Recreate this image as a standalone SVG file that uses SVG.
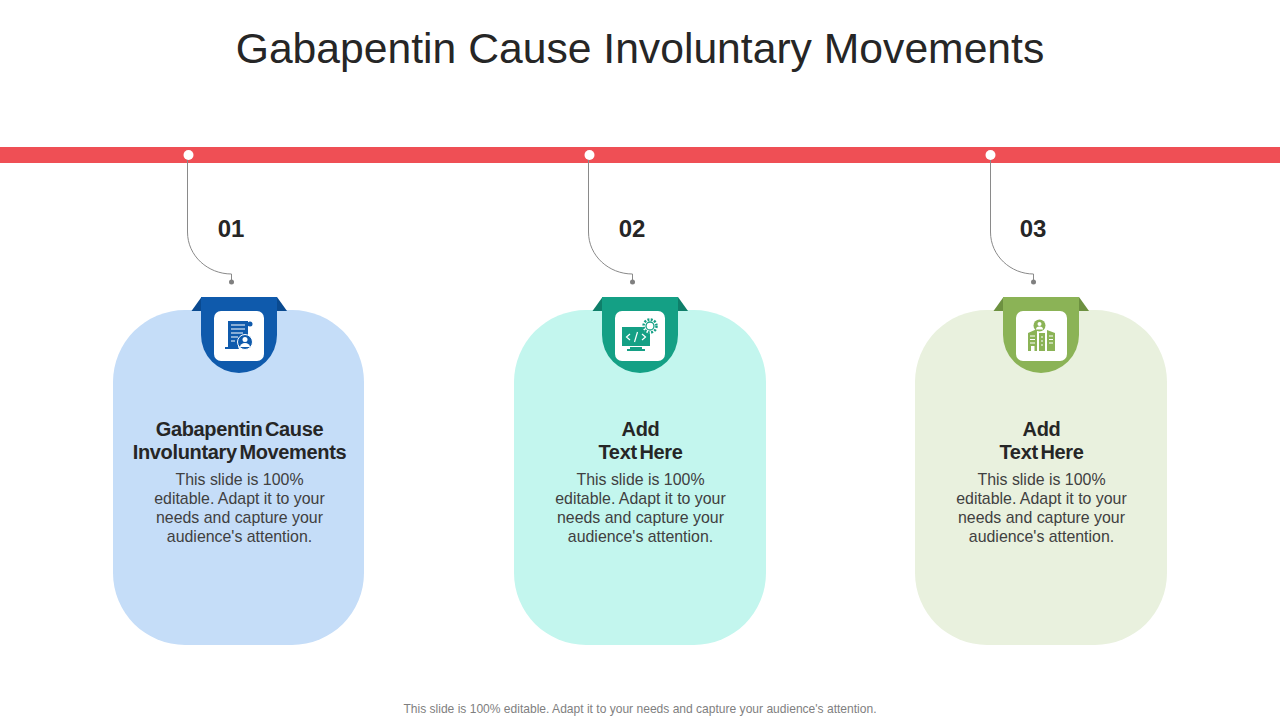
<svg xmlns="http://www.w3.org/2000/svg" width="1280" height="720" viewBox="0 0 1280 720">
<style>
text{font-family:"Liberation Sans",Arial,sans-serif;text-anchor:middle}
.t{font-size:42.67px;fill:#262626}
.n{font-size:24px;font-weight:bold;fill:#262626}
.h{font-size:20px;font-weight:bold;fill:#262626;letter-spacing:-.35px;word-spacing:-2.5px}
.b{font-size:15.9px;fill:#404040}
.f{font-size:12.05px;fill:#7f7f7f}
.c{fill:none;stroke:#8a8a8a;stroke-width:1}
.d{fill:#7f7f7f}
.w{fill:#fff}
</style>
<rect width="1280" height="720" fill="#fff"/>
<text class="t" x="640" y="63">Gabapentin Cause Involuntary Movements</text>
<rect id="bar" x="0" y="147" width="1280" height="16" fill="#ef4f55"/>
<g id="connectors">
<path class="c" d="M187.500 155V232C187.500 256 208 274 231.500 274V282"/>
<path class="c" d="M588.500 155V232C588.500 256 609 274 632.500 274V282"/>
<path class="c" d="M990.500 155V232C990.500 256 1011 274 1033.500 274V282"/>
<circle class="d" cx="231.500" cy="282" r="2.500"/><circle class="d" cx="632.500" cy="282" r="2.500"/><circle class="d" cx="1033.500" cy="282" r="2.500"/>
<circle class="w" cx="188.500" cy="155" r="5"/><circle class="w" cx="589.500" cy="155" r="5"/><circle class="w" cx="990.500" cy="155" r="5"/>
</g>
<g id="node1">
<rect x="113" y="310" width="251" height="335" rx="72" fill="#c5ddf8"/>
<path d="M191.500 311L201.500 297H277L287 311Z" fill="#0a4a90"/>
<path d="M201 297H277V335A38 38 0 0 1 201 335Z" fill="#0f5aac"/>
<rect x="214" y="311" width="50" height="50" rx="7" fill="#fff"/>
<path d="M228 321H248V336A9 9 0 0 0 239 349H225V347H228Z" fill="#0f5aac"/>
<path d="M231 325H245M231 329H245M231 333H243M231 337H238M231 341H235" stroke="#fff" stroke-width="1.200" fill="none"/>
<circle cx="250" cy="324" r="2.500" fill="#0f5aac"/>
<circle cx="245" cy="342" r="7.500" fill="#0f5aac" stroke="#fff"/>
<circle cx="245" cy="339.500" r="2.500" fill="#fff"/><path d="M240 347A5 4 0 0 1 250 347Z" fill="#fff"/>
<text class="n" x="231" y="237">01</text>
<text class="h" x="239.500" y="436">Gabapentin Cause</text>
<text class="h" x="239.500" y="459">Involuntary Movements</text>
<text class="b" x="239.500" y="485">This slide is 100%</text>
<text class="b" x="239.500" y="504">editable. Adapt it to your</text>
<text class="b" x="239.500" y="523">needs and capture your</text>
<text class="b" x="239.500" y="542">audience's attention.</text>
</g>
<g id="node2">
<rect x="514" y="310" width="252" height="335" rx="72" fill="#c3f6ee"/>
<path d="M592.500 311L602.500 297H678L688 311Z" fill="#0f7f6a"/>
<path d="M602 297H678V335A38 38 0 0 1 602 335Z" fill="#14a085"/>
<rect x="615" y="311" width="50" height="50" rx="7" fill="#fff"/>
<rect x="622" y="327" width="28" height="19" fill="#14a085"/>
<path d="M630 347H642V349H645V351H627V349H630Z" fill="#14a085"/>
<path d="M630 334L626.500 337L630 340M642 334L645.500 337L642 340M637.500 332L634.500 342" stroke="#fff" stroke-width="1.200" fill="none"/>
<circle cx="650" cy="326" r="7.500" fill="#fff"/>
<circle cx="650" cy="326" r="4" fill="#fff" stroke="#14a085" stroke-width="1.300"/>
<circle cx="650" cy="326" r="6.500" fill="none" stroke="#14a085" stroke-width="2.500" stroke-dasharray="2 1.400"/>
<text class="n" x="632" y="237">02</text>
<text class="h" x="640.500" y="436">Add</text>
<text class="h" x="640.500" y="459">Text Here</text>
<text class="b" x="640.500" y="485">This slide is 100%</text>
<text class="b" x="640.500" y="504">editable. Adapt it to your</text>
<text class="b" x="640.500" y="523">needs and capture your</text>
<text class="b" x="640.500" y="542">audience's attention.</text>
</g>
<g id="node3">
<rect x="915" y="310" width="252" height="335" rx="72" fill="#e9f1de"/>
<path d="M993.500 311L1003.500 297H1079L1089 311Z" fill="#6d9140"/>
<path d="M1003 297H1079V335A38 38 0 0 1 1003 335Z" fill="#8bb356"/>
<rect x="1016" y="311" width="51" height="50" rx="7" fill="#fff"/>
<path d="M1028 351V333L1037 329V351ZM1039 351V333H1045V351ZM1047 351V330L1055 333V351Z" fill="#8bb356"/>
<path d="M1030 336H1035M1030 339.500H1035M1030 343H1035M1041 337H1043M1041 341H1043M1041 345H1043M1049 336H1053M1049 339.500H1053M1049 343H1053" stroke="#fff" stroke-width="1.200" fill="none"/>
<rect x="1031" y="346" width="3.500" height="5" fill="#fff"/>
<circle cx="1039.500" cy="325.500" r="6" fill="#8bb356"/><circle cx="1039.500" cy="324" r="2" fill="#fff"/><path d="M1036 329.500A3.500 3 0 0 1 1043 329.500Z" fill="#fff"/>
<text class="n" x="1033" y="237">03</text>
<text class="h" x="1041.500" y="436">Add</text>
<text class="h" x="1041.500" y="459">Text Here</text>
<text class="b" x="1041.500" y="485">This slide is 100%</text>
<text class="b" x="1041.500" y="504">editable. Adapt it to your</text>
<text class="b" x="1041.500" y="523">needs and capture your</text>
<text class="b" x="1041.500" y="542">audience's attention.</text>
</g>
<text class="f" x="640" y="713">This slide is 100% editable. Adapt it to your needs and capture your audience's attention.</text>
</svg>
